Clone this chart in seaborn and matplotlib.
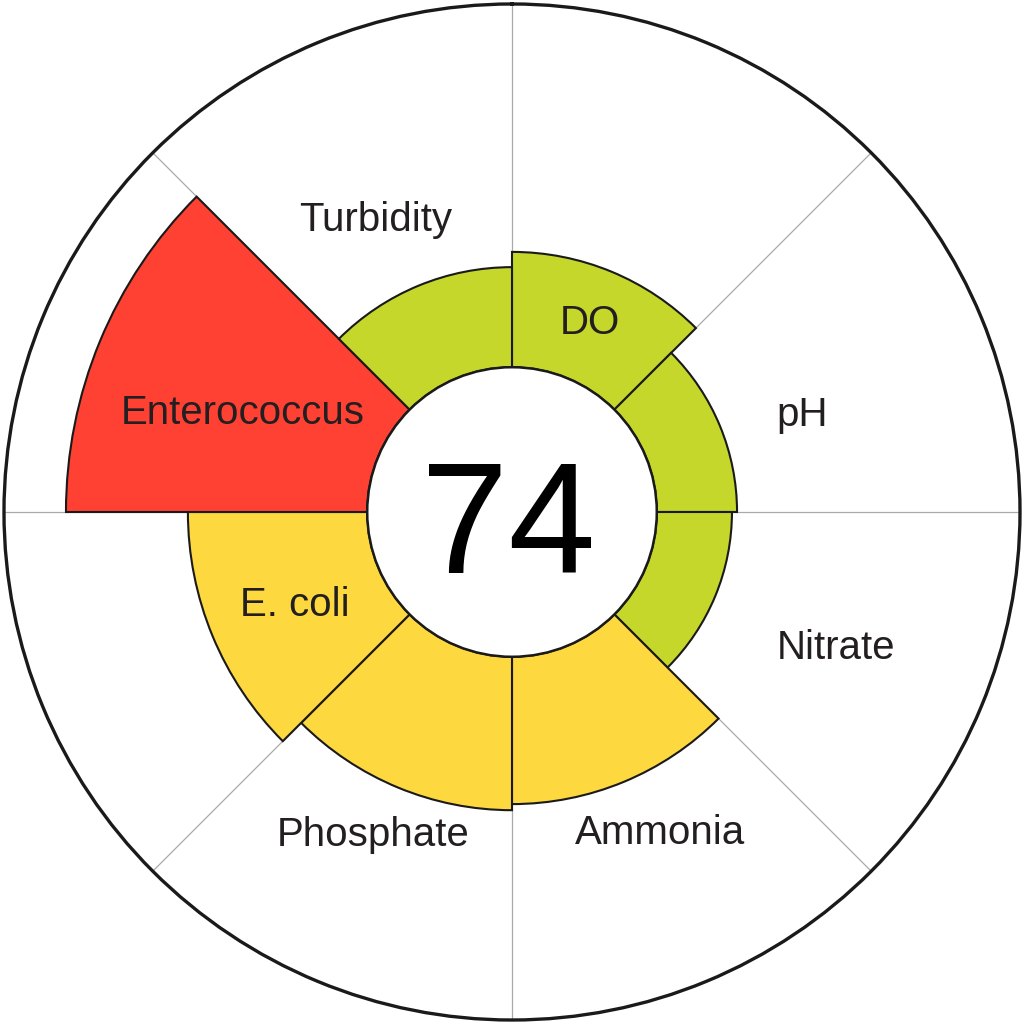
import numpy as np
import pandas as pd
import matplotlib
matplotlib.use("Agg")
import matplotlib.pyplot as plt
from matplotlib.patches import Circle
import seaborn as sns

# ---- data ----
parameters = ["DO", "pH", "Nitrate", "Ammonia", "Phosphate", "E. coli", "Enterococcus", "Turbidity"]
bar_values = [51.2, 44.3, 43.3, 57.5, 58.7, 63.8, 87.8, 48.2]   # outer radius of each wedge (outer ring = 100)
ratings = ["good", "good", "good", "fair", "fair", "fair", "poor", "good"]
overall_score = 74

# ---- layout / style ----
hole = 28.5
rating_colors = {"good": "#C5D72A", "fair": "#FDD83F", "poor": "#FF4133"}
label_theta_deg = [22.4, 71.5, 112.8, 155.3, 203.3, 246.8, 290.2, 334.9]
label_radius = [40.3, 60.2, 69.2, 69.6, 69.2, 46.5, 56.4, 63.5]
text_color = "#231F20"

sns.set_style("white")
plt.rcParams["font.family"] = ["Liberation Sans", "DejaVu Sans"]

df = pd.DataFrame({"parameter": parameters, "value": bar_values, "rating": ratings})
n = len(df)
width = 2 * np.pi / n
df["theta"] = width / 2 + width * np.arange(n)
df["color"] = df["rating"].map(rating_colors)

fig = plt.figure(figsize=(10.24, 10.24), dpi=100)
m = 4 / 1024
ax = fig.add_axes([m, m, 1 - 2 * m, 1 - 2 * m], projection="polar")
ax.set_theta_zero_location("N")
ax.set_theta_direction(-1)
ax.set_ylim(0, 100)

ax.bar(df["theta"], df["value"] - hole, width=width, bottom=hole,
       color=df["color"], edgecolor="#1a1a1a", linewidth=1.5, zorder=3)

# grid
ax.set_xticks(width * np.arange(n))
ax.set_xticklabels([])
ax.set_yticks([])
ax.xaxis.grid(True, color="#AAAAAA", linewidth=0.9, zorder=1)
ax.yaxis.grid(False)
ax.set_axisbelow(True)
ax.spines["polar"].set_color("#1a1a1a")
ax.spines["polar"].set_linewidth(2.4)

# centre hole
hole_circle = Circle((0.5, 0.5), hole / 100 * 0.5, transform=ax.transAxes,
                     facecolor="white", edgecolor="#1a1a1a", linewidth=1.8, zorder=5)
ax.add_patch(hole_circle)
ax.text(0.496, 0.440, str(overall_score), transform=ax.transAxes, ha="center", va="baseline",
        fontsize=113, color="black", zorder=6)

for name, th, r in zip(parameters, label_theta_deg, label_radius):
    ax.text(np.deg2rad(th), r, name, ha="center", va="center", fontsize=29,
            color=text_color, zorder=6)

fig.savefig("out.png", dpi=100, facecolor="white")
